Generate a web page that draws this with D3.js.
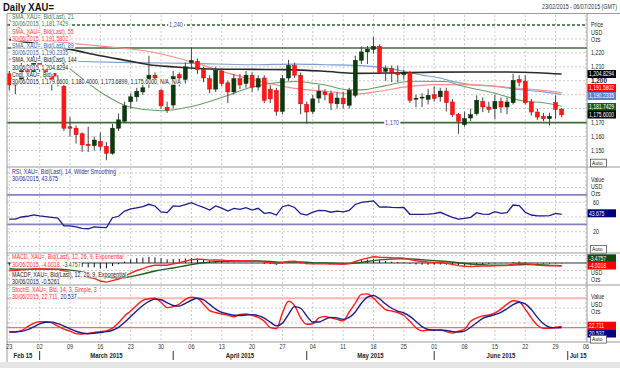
<!DOCTYPE html>
<html><head><meta charset="utf-8">
<script src="https://cdn.jsdelivr.net/npm/d3@7"></script>
<style>
html,body{margin:0;padding:0;background:#fff;}
svg{display:block;font-family:"Liberation Sans",Arial,sans-serif;}
</style></head><body>
<svg id="c" width="620" height="368"></svg>
<script>
// ---------------- DATA ----------------
const dates = d3.timeDay.range(new Date(2015,1,23), new Date(2015,6,1)).filter(d => d.getDay() % 6 !== 0);
const open = [1205,1197,1199,1209,1204,1213,1208,1203,1199,1196,
 1167,1166,1162,1154.5,1153.5,1156.5,1153,1148,1166,1171,
 1185,1188.5,1192,1201.5,1204,1193,1181,1182.6,1204.5,1201,
 1213,1214,1208,1201.5,1194,1207,1198.5,1192,1201.5,1198,
 1204,1195.5,1202,1194,1193,1178,1202,1211,1204,1183,
 1178,1187.6,1192,1190.7,1183.5,1187.6,1182.4,1189.6,1214.7,1220.7,
 1222.6,1224.7,1206.8,1208.7,1205.8,1204.4,1206,1187,1187.8,1186.7,
 1190,1188.5,1192.6,1184.8,1176,1168.5,1173.3,1176.4,1185.2,1181.2,
 1180,1185.2,1181.2,1184.3,1201,1199.6,1184.8,1177.6,1174.5,1172.8,
 1184.3,1179.66];
const high = [1207,1201,1214,1212,1219,1218,1212,1205,1204,1197,
 1174,1168,1163,1167,1160,1163,1156,1169,1176.5,1185,
 1191,1195,1197.5,1218,1206,1194,1185,1207,1206,1213,
 1224,1216,1210,1204,1210,1209,1200,1205,1205,1207,
 1206,1204,1204,1197,1195,1204,1215,1213,1206,1185,
 1190,1197,1194,1193,1192,1192,1195,1218,1224.6,1225,
 1231.4,1226,1211,1211,1211,1208,1207,1190,1191,1194,
 1196,1195,1195,1187,1177,1178,1180,1189.5,1188,1185,
 1190,1188,1188,1205,1204,1204,1187,1180,1177,1177,
 1189.5,1180.40];
const low = [1193,1190.5,1197,1198,1203,1205,1200,1193,1196,1164,
 1160,1155,1149,1149,1150,1150,1143,1147,1164,1170,
 1180,1185,1190,1195,1198,1180,1177,1180,1196,1198,
 1208,1205,1199,1191,1192,1196,1184,1190,1194,1195,
 1192,1193,1184,1184,1175,1176,1200,1202,1176,1169,
 1176,1184,1186,1179,1180,1180,1180,1188,1212,1212,
 1219.5,1205,1200,1199,1199,1201,1184,1181,1181,1183,
 1185,1185,1178,1174,1162,1167,1171,1175,1177.5,1177,
 1172.5,1177,1176,1183,1196,1183,1175,1172,1171,1168,
 1172.8,1173.69];
const close = [1197,1199,1209,1204,1213,1208,1203,1199,1198,1166,
 1166,1161.5,1154,1153.5,1157.5,1153,1148,1166,1172,1182,
 1188.5,1192.5,1195,1204,1202,1182,1179,1203,1202,1210,
 1214.5,1208,1202,1194,1207.5,1198,1192,1201.5,1197,1204,
 1195.5,1201.5,1186,1187,1178,1201.5,1211,1204,1183.5,1177.6,
 1187,1192.5,1190,1184,1187.6,1183.5,1193,1214.7,1220.7,1222.6,
 1224.7,1206,1208.7,1206,1204.4,1206,1186,1187.5,1188.3,1189.6,
 1187.3,1192.6,1184.3,1175.7,1171,1172.8,1175.7,1186,1181.2,1179.5,
 1185.2,1181.2,1184.8,1200.3,1199,1184.3,1177.6,1174,1172.8,1174.5,
 1179.5,1175.60];

// moving averages read at sample days
const sma21Idx = [0,5,10,15,20,25,30,35,40,45,47,52,56,58,62,66,72,74,80,85,88,91];
const sma21 = [1243.5,1226,1208.5,1192,1181,1178.5,1181.5,1188,1195.5,1199,1199.5,1197,1193.5,1193.5,1196.5,1199.7,1199.5,1197,1191,1185.3,1184.3,1181.74];
const sma55Idx = [0,10,16,23,28,32,36,42,47,52,57,61,65,70,77,82,87,91];
const sma55 = [1231,1227,1224.5,1221,1216,1211,1205.5,1199,1194.5,1192.5,1190.5,1192.5,1195.5,1197.3,1197,1195.3,1193.5,1191.58];
const sma89Idx = [0,10,20,30,40,47,52,57,63,68,71,73,76,80,85,88,91];
const sma89 = [1215.5,1214,1213,1212.5,1211.5,1212,1211.5,1211,1208.5,1204,1202,1199.6,1197.2,1196,1193.2,1192,1190.23];
const sma144Idx = [0,10,15,20,23,27,33,40,46,52,57,63,70,76,82,87,91];
const sma144 = [1229.5,1222.5,1218,1214,1211.5,1210,1208.5,1208.2,1208,1206.8,1205.3,1205.6,1206.2,1206.3,1206.3,1205.8,1204.83];

const rsi = [37,37,40,41,43,41.5,40.5,39.5,38.5,28,
 28,26.5,24.5,24,26.5,26,25.5,39,41,48,
 51,52.5,54,57.3,55,47,46,55,54.5,57,
 59.5,56,53,49.5,55,52,48,51.8,50.5,52.7,
 49.5,51.8,45,46,42.7,54,56,53,44.5,42.7,
 46.5,49,48.6,46.5,48,47,49,57,60,61,
 62,53.5,53.8,53.2,52.8,53,43.7,43.5,43.7,44,
 44.5,46.4,43,39.5,37,38,39.5,45.9,44,43.7,
 47.3,45,46,56.3,55.4,46.5,42.7,41.5,41.4,42,
 45,43.675];
const macd = [-10,-10,-9,-8.8,-8,-7.8,-8,-8.3,-8.5,-10.5,
 -12.5,-14.5,-17,-19,-20.5,-24,-25.5,-23.5,-21.5,-17.5,
 -13.5,-10,-7.5,-4.5,-3,-2.8,-3,-1.2,0.3,2.3,
 4.5,5,4.8,3.8,4.2,3.8,3,3.2,3,3.2,
 2.5,2.5,1.2,0.5,-1,0.5,2,2.3,0.8,-0.8,
 -1.2,-1,-1,-1.5,-1.4,-1.6,-0.8,2,4.5,6.5,
 8.3,7.7,7.5,7,6.8,6.5,4.5,3,2,1.3,
 0.8,0.6,-0.3,-1.8,-3.5,-4.3,-4.8,-4.3,-4.2,-4.2,
 -3.6,-3.5,-3.3,-1.6,-0.3,-0.8,-1.8,-2.8,-3.5,-3.8,
 -3.6,-4.0018];
const signal = [-7.6,-8.1,-8.3,-8.4,-8.3,-8.2,-8.2,-8.2,-8.3,-8.7,
 -9.5,-10.5,-11.8,-13.2,-14.7,-16.5,-18.3,-19.4,-19.8,-19.3,
 -18.2,-16.5,-14.7,-12.7,-10.7,-9.2,-7.9,-6.6,-5.2,-3.7,
 -2.1,-0.7,0.4,1.1,1.7,2.1,2.3,2.5,2.6,2.7,
 2.7,2.6,2.3,2.0,1.4,1.2,1.4,1.6,1.4,1.0,
 0.5,0.2,0,-0.3,-0.5,-0.8,-0.8,-0.2,0.7,1.9,
 3.2,4.1,4.8,5.2,5.5,5.7,5.5,5,4.4,3.8,
 3.2,2.7,2.1,1.3,0.3,-0.6,-1.4,-2,-2.4,-2.8,
 -3,-3.1,-3.1,-2.8,-2.3,-2,-2,-2.2,-2.6,-3,
 -3.2,-3.4757];
const hist = [-3.4,-2.9,-1.2,-0.6,0.3,0.4,0.2,-0.1,-0.2,-1.8,
 -3,-4,-5.2,-5.8,-5.8,-7.5,-7.2,-4.1,-1.7,1.8,
 4.7,6.5,7.2,8.2,7.7,6.4,4.9,5.4,5.5,6,
 6.6,5.7,4.4,2.7,2.5,1.7,0.7,0.7,0.4,0.5,
 -0.2,-0.1,-1.1,-1.5,-2.4,-0.7,0.6,0.7,-0.6,-1.8,
 -1.7,-1.2,-1,-1.2,-0.9,-0.8,0,2.2,3.8,4.6,
 5.1,3.6,2.7,1.8,1.3,0.8,-1,-2,-2.4,-2.5,
 -2.4,-2.1,-2.4,-3.1,-3.8,-3.7,-3.4,-2.3,-1.8,-1.4,
 -0.6,-0.4,-0.2,1.2,2,1.2,0.2,-0.6,-0.9,-0.8,
 -0.4,-0.5261];
const stochK = [11.8,11.8,14,22,29,32,32,30,23,17,
 13,8,7,8.5,10.5,11.8,13.5,19,30,44,
 54,66,76,79,80,72,61,63,68,78,
 82,80,68,55,51,48,45.5,42.5,47,48,
 45,41,33,20,18,50,74,65,40,27,
 28,40,43,40,37,34,52,70,88,89,
 80,68,57,54,51,45,33,20,13.5,15.3,
 15.3,15.3,12,9,13,17,33,40,44,46,
 50,58,68,75,73,58,40,25,19,19,
 21,22.711];
const stochD = [11,11.3,12.5,15.9,21.7,27.7,31,31.3,28.3,23.3,
 17.7,12.7,9.3,7.8,8.7,10.3,11.9,14.8,20.8,31,
 42.7,54.7,65.3,73.7,78.3,77,71,65.3,64,69.7,
 76,80,76.7,67.7,58,51.3,48.2,45.3,45,45.8,
 46.7,44.7,39.7,31.3,23.7,29.3,47.3,63,59.7,44,
 31.7,31.7,37,41,40,37,41,52,70,82.3,
 85.7,79,68.3,59.7,54,50,43,32.7,22.2,16.3,
 14.7,15.3,14.2,12.1,11.3,13,21,30,39,43.3,
 46.7,51.3,58.7,67,72,68.7,57,41,28,21,
 19.7,20.537];

const tickLabels = ["23","02","09","16","23","30","06","13","20","27","04","11","18","25","01","08","15","22","29","06"];
const months = [["Feb 15",-1],["March 2015",5],["April 2015",27],["May 2015",49],["June 2015",70],["Jul 15",92]];
const priceTicks = [1150,1160,1170,1200,1210,1220];
const rsiTicks = [20,60];
const levels = {dashed:1240, top:1223.5, support:1170};

// ---------------- LAYOUT ----------------
const svg = d3.select('#c');
const L = 7, R = 587;
const P = {price:[14,167], rsi:[167,253], macd:[253,285], stoch:[285,342]};
const x = d3.scaleLinear().domain([0,95]).range([9.3, 9.3 + 6.07*95]);
const yP = d3.scaleLinear().domain([1150,1240]).range([150.5,25]);
const yR = d3.scaleLinear().domain([20,60]).range([231.7,202.3]);
const yM = d3.scaleLinear().domain([-29.3,13.3]).range([285,253]);
const yS = d3.scaleLinear().domain([20,80]).range([327.7,298.3]);
const idx = d3.range(close.length);

function label(parent, px, py, parts, o = {}) {
  const sx = o.sx ?? 0.82, fs = o.fs ?? 6.5;
  const g = parent.append('g').attr('transform', `translate(${px},${py}) scale(${sx},1)`);
  const bg = o.bg ? g.append('rect') : null;
  const t = g.append('text').attr('font-size', fs).attr('dy', '0.35em')
    .attr('text-anchor', o.anchor || 'start').attr('font-weight', o.fw || 'normal');
  const arr = Array.isArray(parts) ? parts : [[parts, o.fill || '#222']];
  arr.forEach(([s, c]) => t.append('tspan').attr('fill', c).text(s));
  if (bg) { const b = t.node().getBBox(); bg.attr('x', b.x - 1).attr('y', b.y + 0.5).attr('width', b.width + 2).attr('height', b.height - 1).attr('fill', o.bg); }
  return g;
}

// background
svg.append('rect').attr('width',620).attr('height',368).attr('fill','#fff');
svg.append('rect').attr('x',0).attr('y',362).attr('width',620).attr('height',6).attr('fill','#e6e6e6');

// title
label(svg, 3, 7.5, [["Daily XAU=", "#111"]], {fs:10, sx:0.95, fw:'bold'});
label(svg, 617, 6.5, [["23/02/2015 - 06/07/2015 (GMT)", "#333"]], {fs:6.3, sx:0.85, anchor:'end'});

// vertical gridlines (Mondays) across panels
const mondays = d3.range(0, 96, 5);
[P.price, P.rsi, P.macd, P.stoch].forEach(([t,b]) => {
  svg.append('g').selectAll('line').data(mondays).join('line')
    .attr('x1', d => x(d)).attr('x2', d => x(d)).attr('y1', t+1).attr('y2', b-1)
    .attr('stroke', '#bdbdbd').attr('stroke-width', 0.8).attr('stroke-dasharray', '2,2');
});

// horizontal gridlines
function hgrid(vals, sc) {
  svg.append('g').selectAll('line').data(vals).join('line')
    .attr('x1', L).attr('x2', R).attr('y1', d => sc(d)).attr('y2', d => sc(d))
    .attr('stroke', '#bdbdbd').attr('stroke-width', 0.8).attr('stroke-dasharray', '2,2');
}
hgrid([1150,1160,1170,1180,1190,1200,1210,1220,1230], yP);
hgrid([0,20,40,60,80,100], yR);
hgrid([10,-10,-20], yM);
hgrid([100,60,30], yS);

// ---------------- PRICE PANEL ----------------
const gP = svg.append('g');
gP.append('line').attr('x1',L).attr('x2',R).attr('y1',yP(levels.dashed)).attr('y2',yP(levels.dashed))
  .attr('stroke','#2a6a2a').attr('stroke-width',1.3).attr('stroke-dasharray','3,2');
[levels.top, levels.support].forEach(v => gP.append('line').attr('x1',L).attr('x2',R).attr('y1',yP(v)).attr('y2',yP(v))
  .attr('stroke','#3c6e3c').attr('stroke-width',1.6));

function maLine(ix, vals, color, w) {
  gP.append('path').datum(ix.map((d,k) => [d, vals[k]]))
    .attr('d', d3.line().x(d => x(d[0])).y(d => yP(d[1])).curve(d3.curveMonotoneX))
    .attr('fill','none').attr('stroke',color).attr('stroke-width',w);
}
maLine(sma89Idx, sma89, '#7f9fcf', 1.2);
maLine(sma55Idx, sma55, '#ff8c8c', 1.2);
maLine(sma21Idx, sma21, '#6a9f6a', 1.1);
maLine(sma144Idx, sma144, '#2a2a2a', 1.6);

// candles
const cw = 4;
gP.append('g').selectAll('line').data(idx).join('line')
  .attr('x1', i => x(i)).attr('x2', i => x(i)).attr('y1', i => yP(high[i])).attr('y2', i => yP(low[i]))
  .attr('stroke', '#444').attr('stroke-width', 1);
gP.append('g').selectAll('rect').data(idx).join('rect')
  .attr('x', i => x(i) - cw/2).attr('width', cw)
  .attr('y', i => yP(Math.max(open[i], close[i])))
  .attr('height', i => Math.max(1, Math.abs(yP(open[i]) - yP(close[i]))))
  .attr('fill', i => close[i] >= open[i] ? '#0b3b0b' : '#ff1a1a')
  .attr('stroke', i => close[i] >= open[i] ? '#0a2a0a' : '#e00000').attr('stroke-width', 0.5);

// level labels
label(svg, 176, yP(levels.dashed), [["1,240", "#4a4ab4"]], {anchor:'middle', bg:'#fff', fs:6.8});
label(svg, 392, yP(levels.support), [["1,170", "#4a4ab4"]], {anchor:'middle', bg:'#fff', fs:6.8});

// price legend
const legP = [
  [["SMA, XAU=, Bid(Last), 21", "#3b7a3b"]],
  [["30/06/2015, 1,181.7429", "#3b7a3b"]],
  [["SMA, XAU=, Bid(Last), 55", "#ff3a3a"]],
  [["30/06/2015, 1,191.5802", "#ff3a3a"]],
  [["SMA, XAU=, Bid(Last), 89", "#3d5f99"]],
  [["30/06/2015, 1,190.2335", "#3d5f99"]],
  [["SMA, XAU=, Bid(Last), 144", "#222"]],
  [["30/06/2015, 1,204.8294", "#222"]],
  [["Cndl, XAU=, Bid", "#222"]],
  [["30/06/2015, 1,179.6600, 1,180.4000, 1,173.6899, 1,175.6000, N/A, N/A", "#222"]]
];
legP.forEach((p,k) => label(svg, 12, 17 + 7.2*k, p, {bg:'#fff'}));
svg.append('rect').attr('x',53.5).attr('y',73).attr('width',3).attr('height',3.5).attr('fill','#ff1a1a');

// ---------------- RSI PANEL ----------------
[70,30].forEach(v => svg.append('line').attr('x1',L).attr('x2',R).attr('y1',yR(v)).attr('y2',yR(v))
  .attr('stroke','#8282c8').attr('stroke-width',1.8));
svg.append('path').datum(idx).attr('d', d3.line().x(i => x(i)).y(i => yR(rsi[i])))
  .attr('fill','none').attr('stroke','#1c1c8c').attr('stroke-width',1.3);
label(svg, 12, 172, [["RSI, XAU=, Bid(Last), 14, Wilder Smoothing", "#2b2b8f"]], {bg:'#fff'});
label(svg, 12, 179, [["30/06/2015, 43.675", "#2b2b8f"]], {bg:'#fff'});

// ---------------- MACD PANEL ----------------
svg.append('line').attr('x1',L).attr('x2',R).attr('y1',yM(0)).attr('y2',yM(0)).attr('stroke','#333').attr('stroke-width',1);
svg.append('g').selectAll('line').data(idx).join('line')
  .attr('x1', i => x(i)).attr('x2', i => x(i)).attr('y1', yM(0)).attr('y2', i => yM(hist[i]))
  .attr('stroke','#111').attr('stroke-width',1);
svg.append('path').datum(idx).attr('d', d3.line().x(i => x(i)).y(i => yM(signal[i])))
  .attr('fill','none').attr('stroke','#1f5f1f').attr('stroke-width',1.4);
svg.append('path').datum(idx).attr('d', d3.line().x(i => x(i)).y(i => yM(macd[i])))
  .attr('fill','none').attr('stroke','#ff2020').attr('stroke-width',1.4);
label(svg, 12, 257, [["MACD, XAU=, Bid(Last), 12, 26, 9, Exponential", "#ff3030"]], {bg:'#fff'});
label(svg, 12, 264.5, [["30/06/2015, -4.0018, ", "#ff3030"], ["-3.4757", "#1f5f1f"]], {bg:'#fff'});
label(svg, 12, 274.5, [["MACDF, XAU=, Bid(Last), 12, 26, 9, Exponential", "#222"]], {bg:'#fff'});
label(svg, 12, 281.5, [["30/06/2015, -0.5261", "#222"]], {bg:'#fff'});

// ---------------- STOCH PANEL ----------------
svg.append('line').attr('x1',L).attr('x2',R).attr('y1',yS(80)).attr('y2',yS(80)).attr('stroke','#ffb3b3').attr('stroke-width',2);
svg.append('line').attr('x1',L).attr('x2',R).attr('y1',yS(20)).attr('y2',yS(20)).attr('stroke','#ff6a6a').attr('stroke-width',1.3);
svg.append('path').datum(idx).attr('d', d3.line().x(i => x(i)).y(i => yS(stochK[i])).curve(d3.curveMonotoneX))
  .attr('fill','none').attr('stroke','#ff1a1a').attr('stroke-width',1.4);
svg.append('path').datum(idx).attr('d', d3.line().x(i => x(i)).y(i => yS(stochD[i])).curve(d3.curveMonotoneX))
  .attr('fill','none').attr('stroke','#1c1c8c').attr('stroke-width',1.4);
label(svg, 12, 289.5, [["StochS, XAU=, Bid, 14, 3, Simple, 3", "#ff3030"]], {bg:'#fff'});
label(svg, 12, 296.5, [["30/06/2015, 22.711, ", "#ff3030"], ["20.537", "#1c1c8c"]], {bg:'#fff'});

// ---------------- FRAMES ----------------
const fr = '#9a9a9a';
svg.append('line').attr('x1',L).attr('x2',620).attr('y1',13.5).attr('y2',13.5).attr('stroke',fr);
svg.append('line').attr('x1',L).attr('x2',L).attr('y1',13.5).attr('y2',362).attr('stroke',fr);
svg.append('line').attr('x1',R).attr('x2',R).attr('y1',13.5).attr('y2',342).attr('stroke',fr);
[P.price[1], P.rsi[1], P.macd[1], P.stoch[1]].forEach(v =>
  svg.append('line').attr('x1',L).attr('x2',620).attr('y1',v).attr('y2',v).attr('stroke',fr).attr('stroke-width',1.2));

// ---------------- RIGHT AXES ----------------
const ax = 591;
[["Price",25],["USD",32.5],["Ozs",40]].forEach(([s,yy]) => label(svg, ax, yy, s));
priceTicks.forEach(v => label(svg, ax, yP(v), d3.format(",")(v), v === 1200 ? {fw:'bold', fs:7.5, sx:0.85} : {}));
[["Value",179.3],["USD",186.7],["Ozs",194]].forEach(([s,yy]) => label(svg, ax, yy, s));
rsiTicks.forEach(v => label(svg, ax+2, yR(v), String(v)));
[["USD",272.7],["Ozs",280]].forEach(([s,yy]) => label(svg, ax, yy, s));
[["Value",296.7],["USD",304.3],["Ozs",311.7]].forEach(([s,yy]) => label(svg, ax, yy, s));

function vbox(yy, txt, bg) {
  svg.append('rect').attr('x',587.5).attr('y',yy-4).attr('width',28.5).attr('height',8).attr('fill',bg);
  label(svg, 589, yy, [[txt, '#fff']], {fs:6.3, sx:0.8});
}
vbox(74, "1,204.8294", "#000");
vbox(88, "1,191.5802", "#ff0000");
vbox(96, "1,190.2335", "#5f80c4");
vbox(107, "1,181.7429", "#1a5a1a");
vbox(114.5, "1,175.6000", "#000");
vbox(213.3, "43.675", "#000080");
vbox(258.3, "-3.4757", "#0f4a0f");
vbox(265.5, "-4.0018", "#ff0000");
vbox(325.7, "22.711", "#ff0000");
vbox(333.5, "20.537", "#000080");
function autoBox(yy) {
  svg.append('rect').attr('x',590.5).attr('y',yy-3.8).attr('width',16).attr('height',7.6).attr('fill','#fff').attr('stroke','#555').attr('stroke-width',0.8);
  label(svg, 592, yy, "Auto", {fs:6, sx:0.85});
}
autoBox(163); autoBox(249.3); autoBox(339.3);

// ---------------- X AXIS ----------------
tickLabels.forEach((s,k) => label(svg, x(mondays[k]), 347, s, {anchor:'middle', sx:0.85, fill:'#333'}));
months.forEach(([s, i0], k) => {
  if (i0 >= 0) svg.append('line').attr('x1', x(i0)).attr('x2', x(i0)).attr('y1', 351).attr('y2', 360).attr('stroke','#333').attr('stroke-width',1);
  let cx;
  if (k === 0) cx = 23;
  else if (k === months.length - 1) cx = x(i0) + 2;
  else cx = (x(i0) + x(months[k+1][1])) / 2;
  label(svg, cx, 355.5, [[s, '#222']], {anchor: k === months.length-1 ? 'start' : 'middle', fw:'bold', fs:7, sx:0.85});
});
</script>
</body></html>
